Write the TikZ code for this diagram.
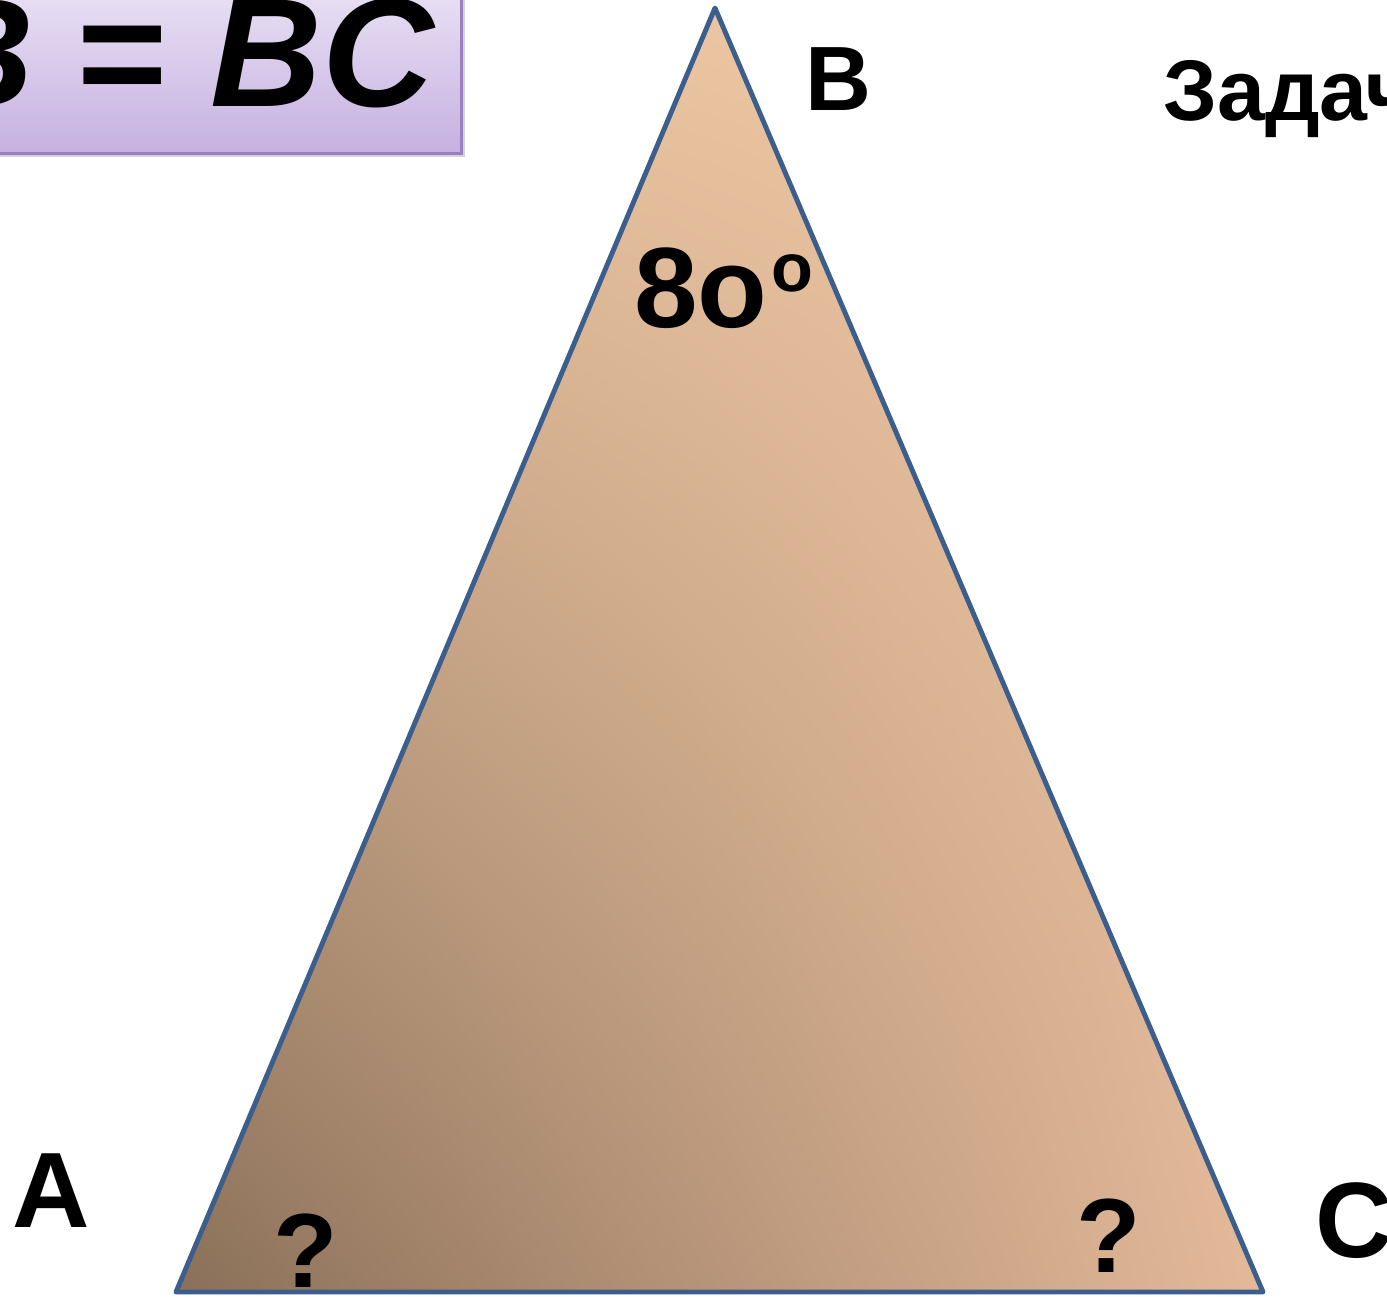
\documentclass[tikz,border=0pt]{standalone}
\usepackage{fontspec}
\setmainfont{Liberation Sans}
\usetikzlibrary{shadows,shadings}
\definecolor{edge}{HTML}{3B5E8C}
\definecolor{boxtop}{HTML}{E8E0F4}
\definecolor{boxbot}{HTML}{C6B0E0}
\definecolor{boxline}{HTML}{9A80BE}
\definecolor{ll}{HTML}{8A7059}
\definecolor{lr}{HTML}{E4B99A}
\definecolor{ul}{HTML}{E8C29F}
\definecolor{ur}{HTML}{F0C9A4}
\tikzset{
  lbl/.style={inner sep=0pt, font=\bfseries},
}
\begin{document}
\begin{tikzpicture}[x=0.02cm,y=-0.02cm]
\useasboundingbox (0,0) rectangle (1387,1296);
\clip (0,0) rectangle (1387,1296);
% title box
\node[draw=boxline, line width=1.5pt, top color=boxtop, bottom color=boxbot,
      minimum width=470*0.02cm, minimum height=162*0.02cm, anchor=north west,
      inner sep=0pt, drop shadow={shadow xshift=2pt, shadow yshift=-2pt, opacity=0.35}] (box) at (-10,-10) {};
\node[lbl, anchor=base east, font=\fontsize{88}{88}\selectfont\bfseries] (title) at (436,106) {\textit{AB} = \textit{BC}};
% triangle
\coordinate (B) at (715,8);
\coordinate (A) at (176,1292);
\coordinate (C) at (1263,1292);
\begin{scope}
  \clip (A) -- (B) -- (C) -- cycle;
  \shade[lower left=ll, lower right=lr, upper left=ul, upper right=ur] (176,8) rectangle (1263,1292);
\end{scope}
\draw[edge, line width=2.8pt, line join=round] (A) -- (B) -- (C) -- cycle;
% labels
\node[lbl, anchor=base west, font=\fontsize{52}{52}\selectfont\bfseries] (lB) at (805,110) {B};
\node[lbl, anchor=base west, font=\fontsize{61}{61}\selectfont\bfseries] (lA) at (12,1227) {A};
\node[lbl, anchor=base west, font=\fontsize{61}{61}\selectfont\bfseries] (lC) at (1315,1257) {C};
\node[lbl, anchor=base west, font=\fontsize{49}{49}\selectfont\bfseries] (task) at (1163,120) {Задача};
\node[lbl, anchor=base west, font=\fontsize{60}{60}\selectfont\bfseries] (qA) at (273,1287) {?};
\node[lbl, anchor=base west, font=\fontsize{60}{60}\selectfont\bfseries] (qC) at (1076,1272) {?};
\node[lbl, anchor=base west, font=\fontsize{65}{65}\selectfont\bfseries] (angB) at (634,327) {8o\hspace{2pt}\raisebox{20pt}{\fontsize{39}{39}\selectfont\bfseries o}};
\end{tikzpicture}
\end{document}
